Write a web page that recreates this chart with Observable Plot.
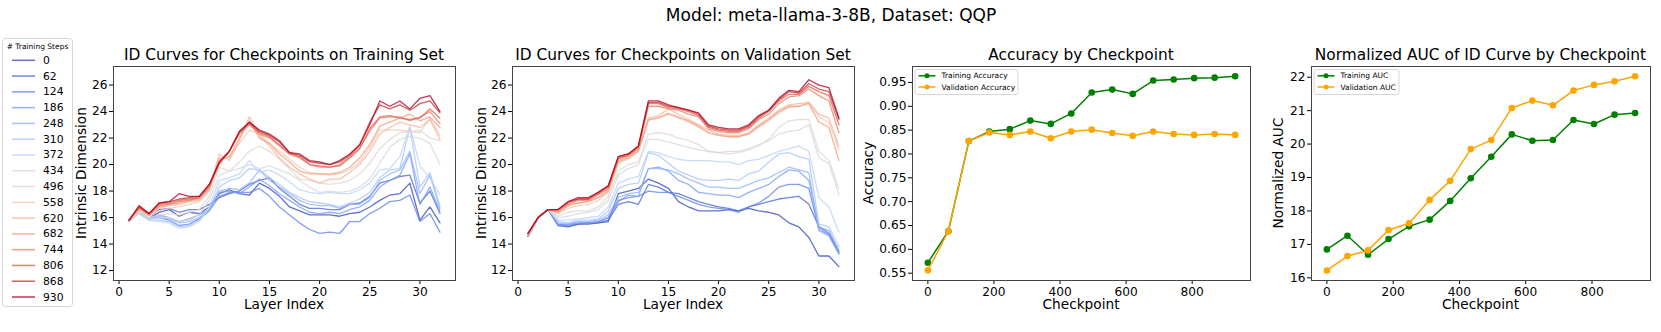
<!DOCTYPE html>
<html>
<head>
<meta charset="utf-8">
<script src="https://cdn.jsdelivr.net/npm/d3@7"></script>
<script src="https://cdn.jsdelivr.net/npm/@observablehq/plot@0.6"></script>
<style>
  html, body { margin: 0; padding: 0; background: #fff; }
  body { font-family: "DejaVu Sans", sans-serif; }
  #root { position: relative; width: 1661px; height: 332px; overflow: hidden; background: #fff; }
  .t { position: absolute; white-space: nowrap; color: #000; line-height: 1; transform: translate(-50%, -50%); }
  .abs { position: absolute; }
</style>
</head>
<body>
<div id="root"></div>
<script>
// ---------------- data ----------------
const layers = [1,2,3,4,5,6,7,8,9,10,11,12,13,14,15,16,17,18,19,20,21,22,23,24,25,26,27,28,29,30,31,32];
const steps = [0,62,124,186,248,310,372,434,496,558,620,682,744,806,868,930];

// Intrinsic dimension per layer, training set (one row per checkpoint, in steps order)
const trainID = [
  [15.8,16.4,15.9,16.4,16.6,16.1,16.4,16.3,16.8,17.8,18.1,17.8,17.7,18.6,18.2,17.6,16.8,16.5,16.2,16.2,16.2,16.1,16.3,16.4,16.8,17.3,17.7,17.8,18.6,15.8,16.8,15.6],
  [15.8,16.4,15.9,16.6,16.7,16.4,16.6,16.6,17.0,17.5,17.8,18.0,18.5,18.8,19.0,18.2,17.6,17.0,16.7,16.7,16.6,16.6,17.0,17.1,17.6,18.6,18.8,19.1,19.2,17.1,18.0,16.3],
  [15.7,16.4,15.9,16.0,15.8,15.4,15.5,15.9,16.5,17.6,17.9,17.9,17.9,18.2,17.6,16.8,16.2,15.6,15.1,14.8,14.9,14.8,15.7,15.7,16.3,16.7,17.2,17.3,17.7,15.7,16.3,14.9],
  [15.8,16.4,15.9,16.2,16.0,15.7,15.9,16.2,16.6,17.9,18.0,17.8,18.3,18.9,18.4,17.8,17.3,16.8,16.4,16.3,16.4,16.3,16.6,16.8,17.3,18.3,18.8,19.2,20.8,17.0,18.3,16.5],
  [15.8,16.4,15.9,16.1,15.9,15.6,15.7,16.0,16.6,18.0,18.2,18.1,18.6,19.6,18.8,18.3,17.8,17.3,17.0,16.9,16.9,16.7,17.0,17.0,17.5,18.8,19.3,19.6,21.0,17.8,19.2,16.7],
  [15.7,16.3,15.8,15.8,15.7,15.3,15.4,15.8,16.7,18.3,18.8,19.0,19.7,19.6,19.0,18.5,17.9,17.5,17.2,17.1,17.0,16.8,17.1,17.4,17.9,19.0,19.6,19.7,22.8,18.3,19.4,16.9],
  [15.7,16.3,15.8,15.7,15.6,15.2,15.3,15.7,16.8,18.8,19.0,19.3,20.3,19.4,19.6,19.2,18.7,18.1,17.9,17.8,17.9,17.8,17.8,18.1,18.6,19.6,19.7,20.6,22.9,19.9,19.0,17.7],
  [15.7,16.4,15.9,16.0,16.0,15.7,15.8,16.2,17.3,19.2,19.5,19.7,20.0,19.7,19.9,19.6,19.3,18.8,18.3,17.9,18.0,17.9,18.0,18.3,18.9,20.1,21.3,21.9,22.1,22.0,21.6,20.0],
  [15.8,16.5,16.0,16.2,16.3,16.2,16.4,16.6,17.6,19.8,19.5,20.2,21.0,21.4,21.0,20.4,19.7,18.9,18.8,18.6,18.5,18.6,18.8,19.3,20.1,21.2,21.9,22.4,22.5,22.6,22.0,21.8],
  [15.8,16.6,16.1,16.5,16.7,16.8,17.0,17.2,18.0,20.5,20.5,21.6,22.6,22.3,21.6,21.0,20.4,19.8,19.4,19.3,19.2,19.3,19.6,20.2,21.3,22.6,22.6,22.6,22.5,22.4,23.5,22.2],
  [15.8,16.6,16.2,16.7,16.9,17.0,17.2,17.3,18.1,20.8,20.3,21.8,23.6,22.2,21.4,20.5,19.8,19.3,18.9,18.6,18.9,18.9,19.4,20.0,21.0,22.3,22.8,23.2,23.0,22.8,23.4,21.9],
  [15.8,16.7,16.2,16.8,17.0,17.1,17.3,17.4,18.2,20.4,20.6,22.0,23.3,22.0,21.6,20.8,20.2,19.5,19.3,19.3,19.3,19.4,19.8,20.5,21.5,22.9,23.2,23.5,23.8,23.3,23.6,22.8],
  [15.8,16.7,16.2,16.9,17.0,17.2,17.3,17.5,18.3,20.0,21.0,22.3,23.0,22.3,22.0,21.4,20.8,20.5,20.0,19.8,19.8,20.0,20.6,21.3,22.5,23.5,23.6,23.6,23.3,23.6,24.0,23.1],
  [15.8,16.8,16.3,17.0,17.1,17.3,17.4,17.5,18.4,20.1,21.0,22.4,23.1,22.4,22.1,21.5,20.8,20.6,20.0,19.9,19.8,19.9,20.5,21.2,22.7,23.6,23.7,23.5,23.4,23.5,24.2,23.5],
  [15.8,16.8,16.3,17.1,17.2,17.4,17.5,17.6,18.5,20.2,21.0,22.5,23.2,22.5,22.2,21.7,20.9,20.7,20.2,20.1,20.0,20.2,20.7,21.5,23.2,24.5,24.2,24.5,24.1,24.6,24.8,23.9],
  [15.8,16.9,16.3,17.1,17.2,17.8,17.6,17.6,18.5,20.2,21.0,22.5,23.2,22.6,22.3,21.8,20.9,20.8,20.3,20.2,20.0,20.3,20.8,21.5,23.0,24.8,24.4,24.8,24.2,25.0,25.2,24.0]
];

// Intrinsic dimension per layer, validation set
const valID = [
  [14.6,16.0,16.6,15.4,15.3,15.5,15.5,15.6,15.7,17.8,18.0,18.2,18.9,18.6,18.2,17.2,16.8,16.5,16.5,16.5,16.6,16.5,16.7,16.5,16.4,16.2,15.6,15.3,14.5,13.1,13.1,12.3],
  [14.6,16.0,16.6,15.5,15.4,15.5,15.6,15.6,15.8,17.0,17.2,17.0,18.5,18.3,17.9,17.8,17.5,17.2,17.0,16.8,16.7,16.5,16.8,17.0,17.2,17.4,17.5,17.6,17.0,15.3,14.8,13.4],
  [14.6,16.0,16.6,15.4,15.5,15.6,15.6,15.7,16.0,17.3,17.5,17.6,18.0,17.9,17.9,17.6,17.3,17.0,16.8,16.7,16.6,16.4,16.8,17.1,17.6,18.3,18.5,18.5,18.2,15.1,14.7,13.3],
  [14.6,16.0,16.6,15.5,15.4,15.6,15.6,15.7,16.0,17.2,17.7,17.6,19.7,19.8,19.5,18.8,18.5,17.9,17.8,17.7,17.7,17.5,17.9,18.2,18.5,19.1,19.6,19.5,18.8,15.3,15.0,13.5],
  [14.6,16.0,16.6,15.6,15.5,15.7,15.7,15.8,16.2,17.5,17.8,17.9,19.7,19.7,19.6,19.3,18.9,18.6,18.3,18.3,18.2,18.2,18.5,18.8,19.0,19.4,19.8,19.6,19.4,15.0,14.6,13.2],
  [14.7,16.0,16.6,15.7,15.6,15.8,15.8,15.9,16.5,18.2,18.5,18.6,20.9,20.7,20.1,19.5,19.2,18.9,18.8,18.8,18.9,18.8,19.3,19.5,20.2,20.8,20.9,20.6,20.4,15.5,15.3,13.8],
  [14.7,16.0,16.6,15.8,15.8,15.9,16.0,16.1,16.8,18.6,18.9,19.1,21.0,20.9,20.6,20.4,20.3,20.3,20.3,20.2,20.2,20.0,20.3,20.4,20.7,21.0,21.2,21.4,21.0,17.5,16.8,14.9],
  [14.7,16.0,16.6,16.0,16.1,16.3,16.4,16.6,17.3,19.2,19.7,20.0,21.9,21.9,21.7,21.5,21.3,21.1,21.0,20.9,21.0,21.0,21.2,21.5,21.8,22.3,22.5,22.6,23.0,20.5,20.1,17.7],
  [14.7,16.0,16.6,16.1,16.4,16.5,16.5,16.8,17.6,19.5,20.0,20.2,22.3,22.4,22.3,22.0,21.8,21.5,21.0,20.9,20.8,20.9,21.1,21.4,21.9,22.8,23.3,23.4,23.4,21.0,20.3,18.2],
  [14.7,16.0,16.6,16.3,16.7,16.9,17.0,17.3,17.9,20.1,20.4,21.0,23.3,23.6,23.9,23.5,23.2,22.8,22.4,22.2,22.1,22.1,22.3,22.8,23.3,23.9,24.3,24.4,24.7,23.6,23.2,21.1],
  [14.7,16.0,16.6,16.4,16.9,17.1,17.2,17.5,18.1,20.3,20.6,21.1,23.5,23.7,24.2,23.8,23.4,23.0,22.6,22.3,22.2,22.2,22.4,23.0,23.5,24.1,24.5,24.6,24.7,23.8,23.5,21.4],
  [14.7,16.0,16.6,16.4,16.9,17.1,17.2,17.5,18.0,20.2,20.5,21.0,23.4,23.5,23.8,23.6,23.3,22.9,22.4,22.2,22.1,22.1,22.3,22.9,23.4,24.0,24.4,24.4,24.6,23.2,22.8,20.3],
  [14.8,16.0,16.6,16.5,17.0,17.3,17.3,17.7,18.2,20.4,20.7,21.2,24.4,24.4,24.2,24.1,23.8,23.6,22.7,22.5,22.4,22.4,22.7,23.4,23.8,24.6,25.1,25.2,25.7,25.2,24.8,22.4],
  [14.8,16.0,16.6,16.6,17.1,17.4,17.4,17.8,18.3,20.5,20.7,21.3,24.6,24.6,24.3,24.2,24.0,23.7,22.8,22.6,22.5,22.5,22.8,23.5,24.0,24.8,25.3,25.3,25.9,25.5,25.2,23.0],
  [14.8,16.0,16.6,16.6,17.2,17.4,17.4,17.9,18.4,20.6,20.8,21.4,24.7,24.7,24.4,24.3,24.1,23.8,22.9,22.7,22.6,22.6,22.9,23.6,24.1,24.9,25.5,25.4,26.1,25.7,25.5,23.4],
  [14.8,16.0,16.6,16.6,17.2,17.5,17.5,17.9,18.4,20.6,20.8,21.4,24.8,24.8,24.5,24.3,24.1,23.9,23.0,22.8,22.7,22.7,23.0,23.7,24.1,25.0,25.6,25.5,26.4,26.0,25.8,23.5]
];

const trainAcc = [0.572,0.638,0.827,0.847,0.852,0.870,0.863,0.885,0.929,0.935,0.926,0.954,0.956,0.959,0.960,0.963];
const valAcc   = [0.556,0.638,0.827,0.845,0.840,0.847,0.833,0.847,0.851,0.844,0.838,0.847,0.842,0.840,0.842,0.840];
const trainAUC = [16.85,17.26,16.69,17.16,17.54,17.74,18.30,18.98,19.62,20.29,20.10,20.12,20.72,20.60,20.88,20.93];
const valAUC   = [16.22,16.65,16.82,17.43,17.63,18.33,18.90,19.85,20.12,21.08,21.30,21.16,21.60,21.77,21.88,22.03];

const layerTicks = [0,5,10,15,20,25,30];
const idTicks = [12,14,16,18,20,22,24,26];
const ckptTicks = [0,200,400,600,800];
const accTicks = [0.55,0.60,0.65,0.70,0.75,0.80,0.85,0.90,0.95];
const aucTicks = [16,17,18,19,20,21,22];

const suptitle = "Model: meta-llama-3-8B, Dataset: QQP";
const titles = ["ID Curves for Checkpoints on Training Set", "ID Curves for Checkpoints on Validation Set", "Accuracy by Checkpoint", "Normalized AUC of ID Curve by Checkpoint"];
const legendTitle = "# Training Steps";

// ---------------- styling ----------------
const coolwarmStops = ["#3b4cc0","#6282ea","#8db0fe","#b8d0f9","#dddddd","#f5c4ad","#f49a7b","#de604d","#b40426"];
const cw = d3.piecewise(d3.interpolateRgb, coolwarmStops);
const palette = steps.map((s, i) => cw(i / (steps.length - 1)));
const FONT = "'DejaVu Sans', sans-serif";
const TICK_FS = 12.2, LABEL_FS = 13.7, TITLE_FS = 15.4;
const LINE_OPACITY = 0.8;

const root = document.getElementById("root");

function addText(str, x, y, size, rotate) {
  const d = document.createElement("div");
  d.className = "t";
  d.textContent = str;
  d.style.left = x + "px";
  d.style.top = y + "px";
  d.style.fontSize = size + "px";
  d.style.fontFamily = FONT;
  if (rotate) d.style.transform = "translate(-50%, -50%) rotate(" + rotate + "deg)";
  root.appendChild(d);
}

function place(node, left, top) {
  node.style.position = "absolute";
  node.style.left = left + "px";
  node.style.top = top + "px";
  root.appendChild(node);
}

const plotStyle = { background: "transparent", fontSize: TICK_FS + "px", fontFamily: FONT, color: "#000", overflow: "visible" };
const SVG_TOP = 60, FRAME_TOP = 66, FRAME_BOTTOM = 280;

function longForm(rows) {
  return rows.flatMap((row, i) => row.map((v, j) => ({ step: steps[i], layer: layers[j], value: v })));
}

function idPanel(rows, left, right, svgLeft, svgRight) {
  const p = Plot.plot({
    width: svgRight - svgLeft, height: 332 - SVG_TOP,
    marginTop: FRAME_TOP - SVG_TOP, marginBottom: 332 - FRAME_BOTTOM,
    marginLeft: left - svgLeft, marginRight: svgRight - right,
    style: plotStyle,
    x: { domain: [-0.55, 33.55], ticks: layerTicks, tickSize: 4, tickPadding: 3, label: null },
    y: { domain: [11.25, 27.4], ticks: idTicks, tickSize: 4, tickPadding: 2, label: null },
    color: { type: "ordinal", domain: steps, range: palette },
    marks: [
      Plot.line(longForm(rows), { x: "layer", y: "value", z: "step", stroke: "step", strokeWidth: 1.3, strokeOpacity: LINE_OPACITY }),
      Plot.frame({ stroke: "#444" })
    ]
  });
  place(p, svgLeft, SVG_TOP);
}

function ckptPanel(a, b, yDomain, yTicks, yFmt, left, right, svgLeft, svgRight) {
  const p = Plot.plot({
    width: svgRight - svgLeft, height: 332 - SVG_TOP,
    marginTop: FRAME_TOP - SVG_TOP, marginBottom: 332 - FRAME_BOTTOM,
    marginLeft: left - svgLeft, marginRight: svgRight - right,
    style: plotStyle,
    x: { domain: [-46.5, 976.5], ticks: ckptTicks, tickSize: 4, tickPadding: 3, label: null },
    y: { domain: yDomain, ticks: yTicks, tickFormat: yFmt, tickSize: 4, tickPadding: 2, label: null },
    marks: [
      Plot.line(a, { x: steps, y: a, stroke: "green", strokeWidth: 1.5 }),
      Plot.dot(a, { x: steps, y: a, fill: "green", r: 3.3 }),
      Plot.line(b, { x: steps, y: b, stroke: "orange", strokeWidth: 1.5 }),
      Plot.dot(b, { x: steps, y: b, fill: "orange", r: 3.3 }),
      Plot.frame({ stroke: "#444" })
    ]
  });
  place(p, svgLeft, SVG_TOP);
}

// panels
idPanel(trainID, 113, 455, 86, 470);
idPanel(valID, 512, 854, 486, 870);
ckptPanel(trainAcc, valAcc, [0.5347, 0.9834], accTicks, d3.format(".2f"), 912, 1250, 872, 1266);
ckptPanel(trainAUC, valAUC, [15.92, 22.32], aucTicks, d3.format("d"), 1311, 1650, 1284, 1661);

// titles & axis labels
addText(suptitle, 831, 15, 17);
addText(titles[0], 284, 56, TITLE_FS);
addText(titles[1], 683, 56, TITLE_FS);
addText(titles[2], 1081, 56, TITLE_FS);
addText(titles[3], 1480.5, 56, TITLE_FS);
addText("Layer Index", 284, 305, LABEL_FS);
addText("Layer Index", 683, 305, LABEL_FS);
addText("Checkpoint", 1081, 305, LABEL_FS);
addText("Checkpoint", 1480.5, 305, LABEL_FS);
addText("Intrinsic Dimension", 82, 173, LABEL_FS, -90);
addText("Intrinsic Dimension", 482, 173, LABEL_FS, -90);
addText("Accuracy", 869, 173, LABEL_FS, -90);
addText("Normalized AUC", 1279, 173, LABEL_FS, -90);

// overlay svg for legends
const ov = d3.select(root).append("svg")
  .attr("class", "abs")
  .attr("width", 1661).attr("height", 332)
  .style("left", "0px").style("top", "0px")
  .style("pointer-events", "none")
  .style("font-family", FONT);

// steps legend (left)
ov.append("rect").attr("x", 2.5).attr("y", 38.5).attr("width", 70).attr("height", 268).attr("rx", 3)
  .attr("fill", "white").attr("stroke", "#d6d6d6");
ov.append("text").attr("x", 37.5).attr("y", 46).attr("text-anchor", "middle").attr("dominant-baseline", "central")
  .attr("font-size", 7.5).text(legendTitle);
steps.forEach((s, i) => {
  const y = 60.3 + i * 15.78;
  ov.append("line").attr("x1", 12).attr("x2", 35).attr("y1", y).attr("y2", y)
    .attr("stroke", palette[i]).attr("stroke-width", 1.5).attr("stroke-opacity", LINE_OPACITY);
  ov.append("text").attr("x", 43).attr("y", y).attr("dominant-baseline", "central")
    .attr("font-size", 10.8).text(String(s));
});

// small legends
function smallLegend(x0, labels) {
  ov.append("rect").attr("x", x0 + 0.5).attr("y", 69.5).attr("width", labels.w).attr("height", 25).attr("rx", 2)
    .attr("fill", "white").attr("stroke", "#d6d6d6");
  [["green", labels.a], ["orange", labels.b]].forEach(([c, t], i) => {
    const y = 75.8 + i * 11.2;
    ov.append("line").attr("x1", x0 + 4).attr("x2", x0 + 21).attr("y1", y).attr("y2", y)
      .attr("stroke", c).attr("stroke-width", 1.5);
    ov.append("circle").attr("cx", x0 + 12.5).attr("cy", y).attr("r", 2.5).attr("fill", c);
    ov.append("text").attr("x", x0 + 27).attr("y", y).attr("dominant-baseline", "central")
      .attr("font-size", 7.5).text(t);
  });
}
smallLegend(914.5, { a: "Training Accuracy", b: "Validation Accuracy", w: 103 });
smallLegend(1313.5, { a: "Training AUC", b: "Validation AUC", w: 85 });
</script>
</body>
</html>
